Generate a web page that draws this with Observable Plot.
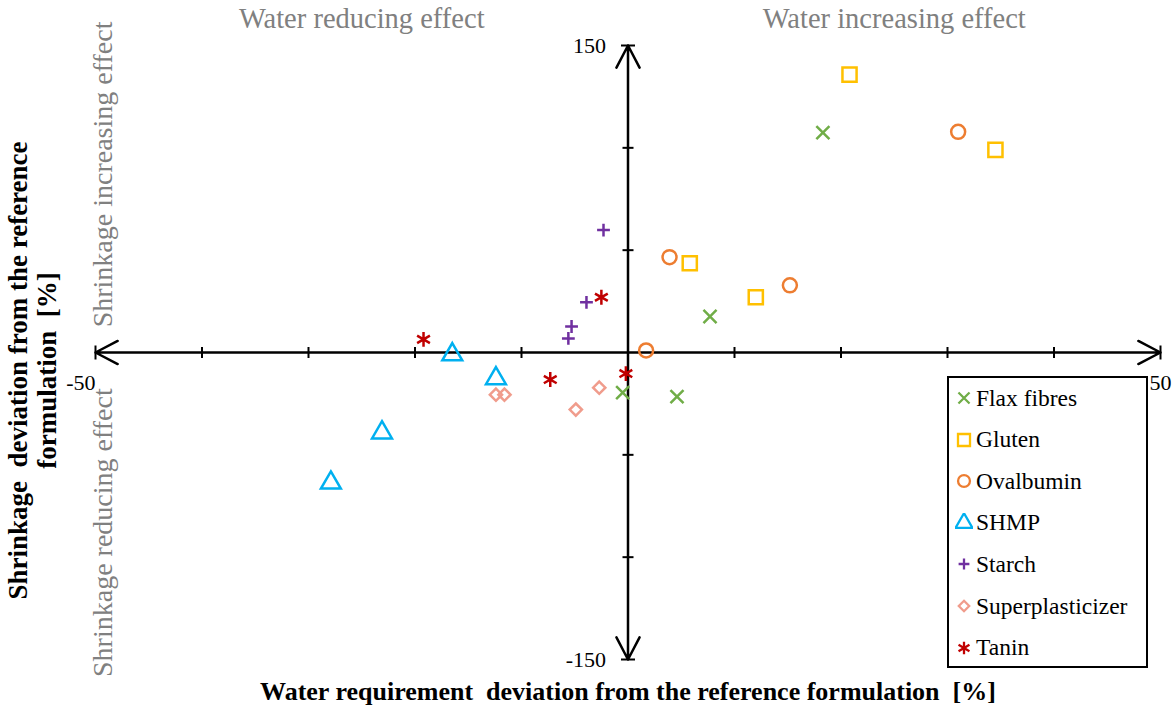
<!DOCTYPE html>
<html><head><meta charset="utf-8">
<script src="https://cdn.jsdelivr.net/npm/d3@7"></script>
<script src="https://cdn.jsdelivr.net/npm/@observablehq/plot@0.6"></script>
<style>
body{margin:0;background:#fff;}
#wrap{position:relative;width:1173px;height:707px;font-family:'Liberation Serif','Times New Roman',Tinos,'DejaVu Serif',serif;}
#wrap svg.plot{position:absolute;left:0;top:0;}
#legend{position:absolute;left:947px;top:376px;width:197px;height:288px;border:2px solid #000;background:#fff;}
.row{position:absolute;left:0;height:36px;display:flex;align-items:center;font-size:23.5px;color:#000;white-space:nowrap;}
.row svg{margin-left:6px;margin-right:3px;}
</style></head><body><div id="wrap"></div>
<script>
// ---- data ----
const seriesNames = ["Flax fibres","Gluten","Ovalbumin","SHMP","Starch","Superplasticizer","Tanin"];
const seriesColors = ["#70AD47","#FFC000","#ED7D31","#00B0F0","#7030A0","#F09C8C","#C00000"];
const seriesSymbols = ["times","square2","circle","triangle2","plus","diamond2","asterisk"];
// water requirement deviation [%] per series
const waterDeviation = [
  [18.3, 7.7, -0.5, 4.6],
  [20.8, 34.5, 5.8, 12.0],
  [31.0, 3.9, 15.2, 1.7],
  [-16.5, -12.4, -23.1, -27.9],
  [-2.3, -3.9, -5.3, -5.6],
  [-12.4, -11.6, -4.9, -2.7],
  [-19.2, -2.5, -7.3, -0.2]
];
// shrinkage deviation [%] per series
const shrinkageDeviation = [
  [107.4, 17.6, -19.6, -21.6],
  [135.8, 99.0, 43.6, 27.0],
  [107.8, 46.6, 32.8, 1.0],
  [-1.0, -12.7, -39.2, -63.7],
  [59.8, 24.5, 12.7, 6.9],
  [-20.6, -20.6, -27.9, -17.2],
  [6.4, 27.0, -13.2, -10.3]
];
const xTicks = [-40,-30,-20,-10,10,20,30,40];
const yTicks = [-100,-50,50,100];
const xEnds = [-50, 50];
const yEnds = [-150, 150];
const xEndLabels = ["-50","50"];
const yEndLabels = ["-150","150"];

// ---- styles ----
const symbolRadius = {"Flax fibres":6,"Gluten":9,"Ovalbumin":7,"SHMP":9.5,"Starch":4.2,"Superplasticizer":5.5,"Tanin":7};
const font = "'Liberation Serif','Times New Roman',Tinos,'DejaVu Serif',serif";
const gray = "#808080";

const points = seriesNames.flatMap((s,i)=>waterDeviation[i].map((x,j)=>({series:s,x,y:shrinkageDeviation[i][j]})));

const vTick = {draw(ctx,size){const r=Math.sqrt(size/Math.PI);ctx.moveTo(0,-r);ctx.lineTo(0,r);}};
const hTick = {draw(ctx,size){const r=Math.sqrt(size/Math.PI);ctx.moveTo(-r,0);ctx.lineTo(r,0);}};

const axisEnds = [...xEnds.map(x=>({x,y:0})), ...yEnds.map(y=>({x:0,y}))];

const plot = Plot.plot({
  width:1173, height:707,
  marginLeft:95, marginRight:13, marginTop:45, marginBottom:48,
  x:{domain:[-50,50], axis:null},
  y:{domain:[-150,150], axis:null},
  r:{type:"identity"},
  color:{domain:seriesNames, range:seriesColors},
  symbol:{domain:seriesNames, range:seriesSymbols},
  style:{fontFamily:font, background:"transparent", overflow:"visible"},
  marks:[
    // axes
    Plot.arrow(axisEnds,{x1:0,y1:0,x2:"x",y2:"y",stroke:"black",strokeWidth:2.5,headLength:15,headAngle:55}),
    Plot.dot(xTicks,{x:d=>d,y:0,symbol:vTick,r:5.5,stroke:"black",strokeWidth:2}),
    Plot.dot(xEnds,{x:d=>d,y:0,symbol:vTick,r:7,stroke:"black",strokeWidth:2}),
    Plot.dot(yTicks,{x:0,y:d=>d,symbol:hTick,r:5.5,stroke:"black",strokeWidth:2}),
    Plot.dot(yEnds,{x:0,y:d=>d,symbol:hTick,r:7,stroke:"black",strokeWidth:2}),
    // end labels
    Plot.text(yEnds,{x:0,y:d=>d,text:(d,i)=>yEndLabels[i],textAnchor:"end",dx:-22,fontSize:22,fill:"black"}),
    Plot.text([xEnds[0]],{x:d=>d,y:0,text:()=>xEndLabels[0],textAnchor:"end",dy:30,fontSize:22,fill:"black"}),
    Plot.text([xEnds[1]],{x:d=>d,y:0,text:()=>xEndLabels[1],textAnchor:"end",dx:11,dy:30,fontSize:22,fill:"black"}),
    // quadrant annotations
    Plot.text(["Water reducing effect"],{x:-25,y:163,text:d=>d,fontSize:28.5,fill:gray}),
    Plot.text(["Water increasing effect"],{x:25,y:163,text:d=>d,fontSize:28.5,fill:gray}),
    Plot.text(["Shrinkage increasing effect"],{x:-50,y:87,dx:8,text:d=>d,rotate:-90,fontSize:28,fill:gray}),
    Plot.text(["Shrinkage reducing effect"],{x:-50,y:-88,dx:8,text:d=>d,rotate:-90,fontSize:28,fill:gray}),
    // axis titles
    Plot.text(["Water requirement\u00a0 deviation from the reference formulation\u00a0 [%]"],{frameAnchor:"bottom",textAnchor:"middle",lineAnchor:"middle",dy:32,text:d=>d,fontSize:26,fontWeight:"bold",fill:"black"}),
    Plot.text(["Shrinkage\u00a0 deviation from the reference\nformulation\u00a0 [%]"],{frameAnchor:"left",textAnchor:"middle",lineAnchor:"middle",dx:-63,dy:18,text:d=>d,rotate:-90,fontSize:27,fontWeight:"bold",lineHeight:1.08,fill:"black"}),
    // data
    Plot.dot(points,{x:"x",y:"y",stroke:"series",symbol:"series",r:d=>symbolRadius[d.series],strokeWidth:2.5,fill:"none"})
  ]
});
plot.classList.add("plot");
const wrap = document.getElementById("wrap");
wrap.appendChild(plot);

// legend
const d3sym = {times:d3.symbolTimes,square2:d3.symbolSquare2,circle:d3.symbolCircle,triangle2:d3.symbolTriangle2,plus:d3.symbolPlus,diamond2:d3.symbolDiamond2,asterisk:d3.symbolAsterisk};
const legend = d3.select(wrap).append("div").attr("id","legend");
seriesNames.forEach((s,i)=>{
  const row = legend.append("div").attr("class","row").style("top",(2+i*41.6)+"px");
  const svg = row.append("svg").attr("width",18).attr("height",20).attr("viewBox","-9 -10 18 20");
  const r = symbolRadius[s]*0.85;
  svg.append("path").attr("d",d3.symbol(d3sym[seriesSymbols[i]],Math.PI*r*r)())
    .attr("fill","none").attr("stroke",seriesColors[i]).attr("stroke-width",2.3);
  row.append("span").text(s);
});
</script></body></html>
